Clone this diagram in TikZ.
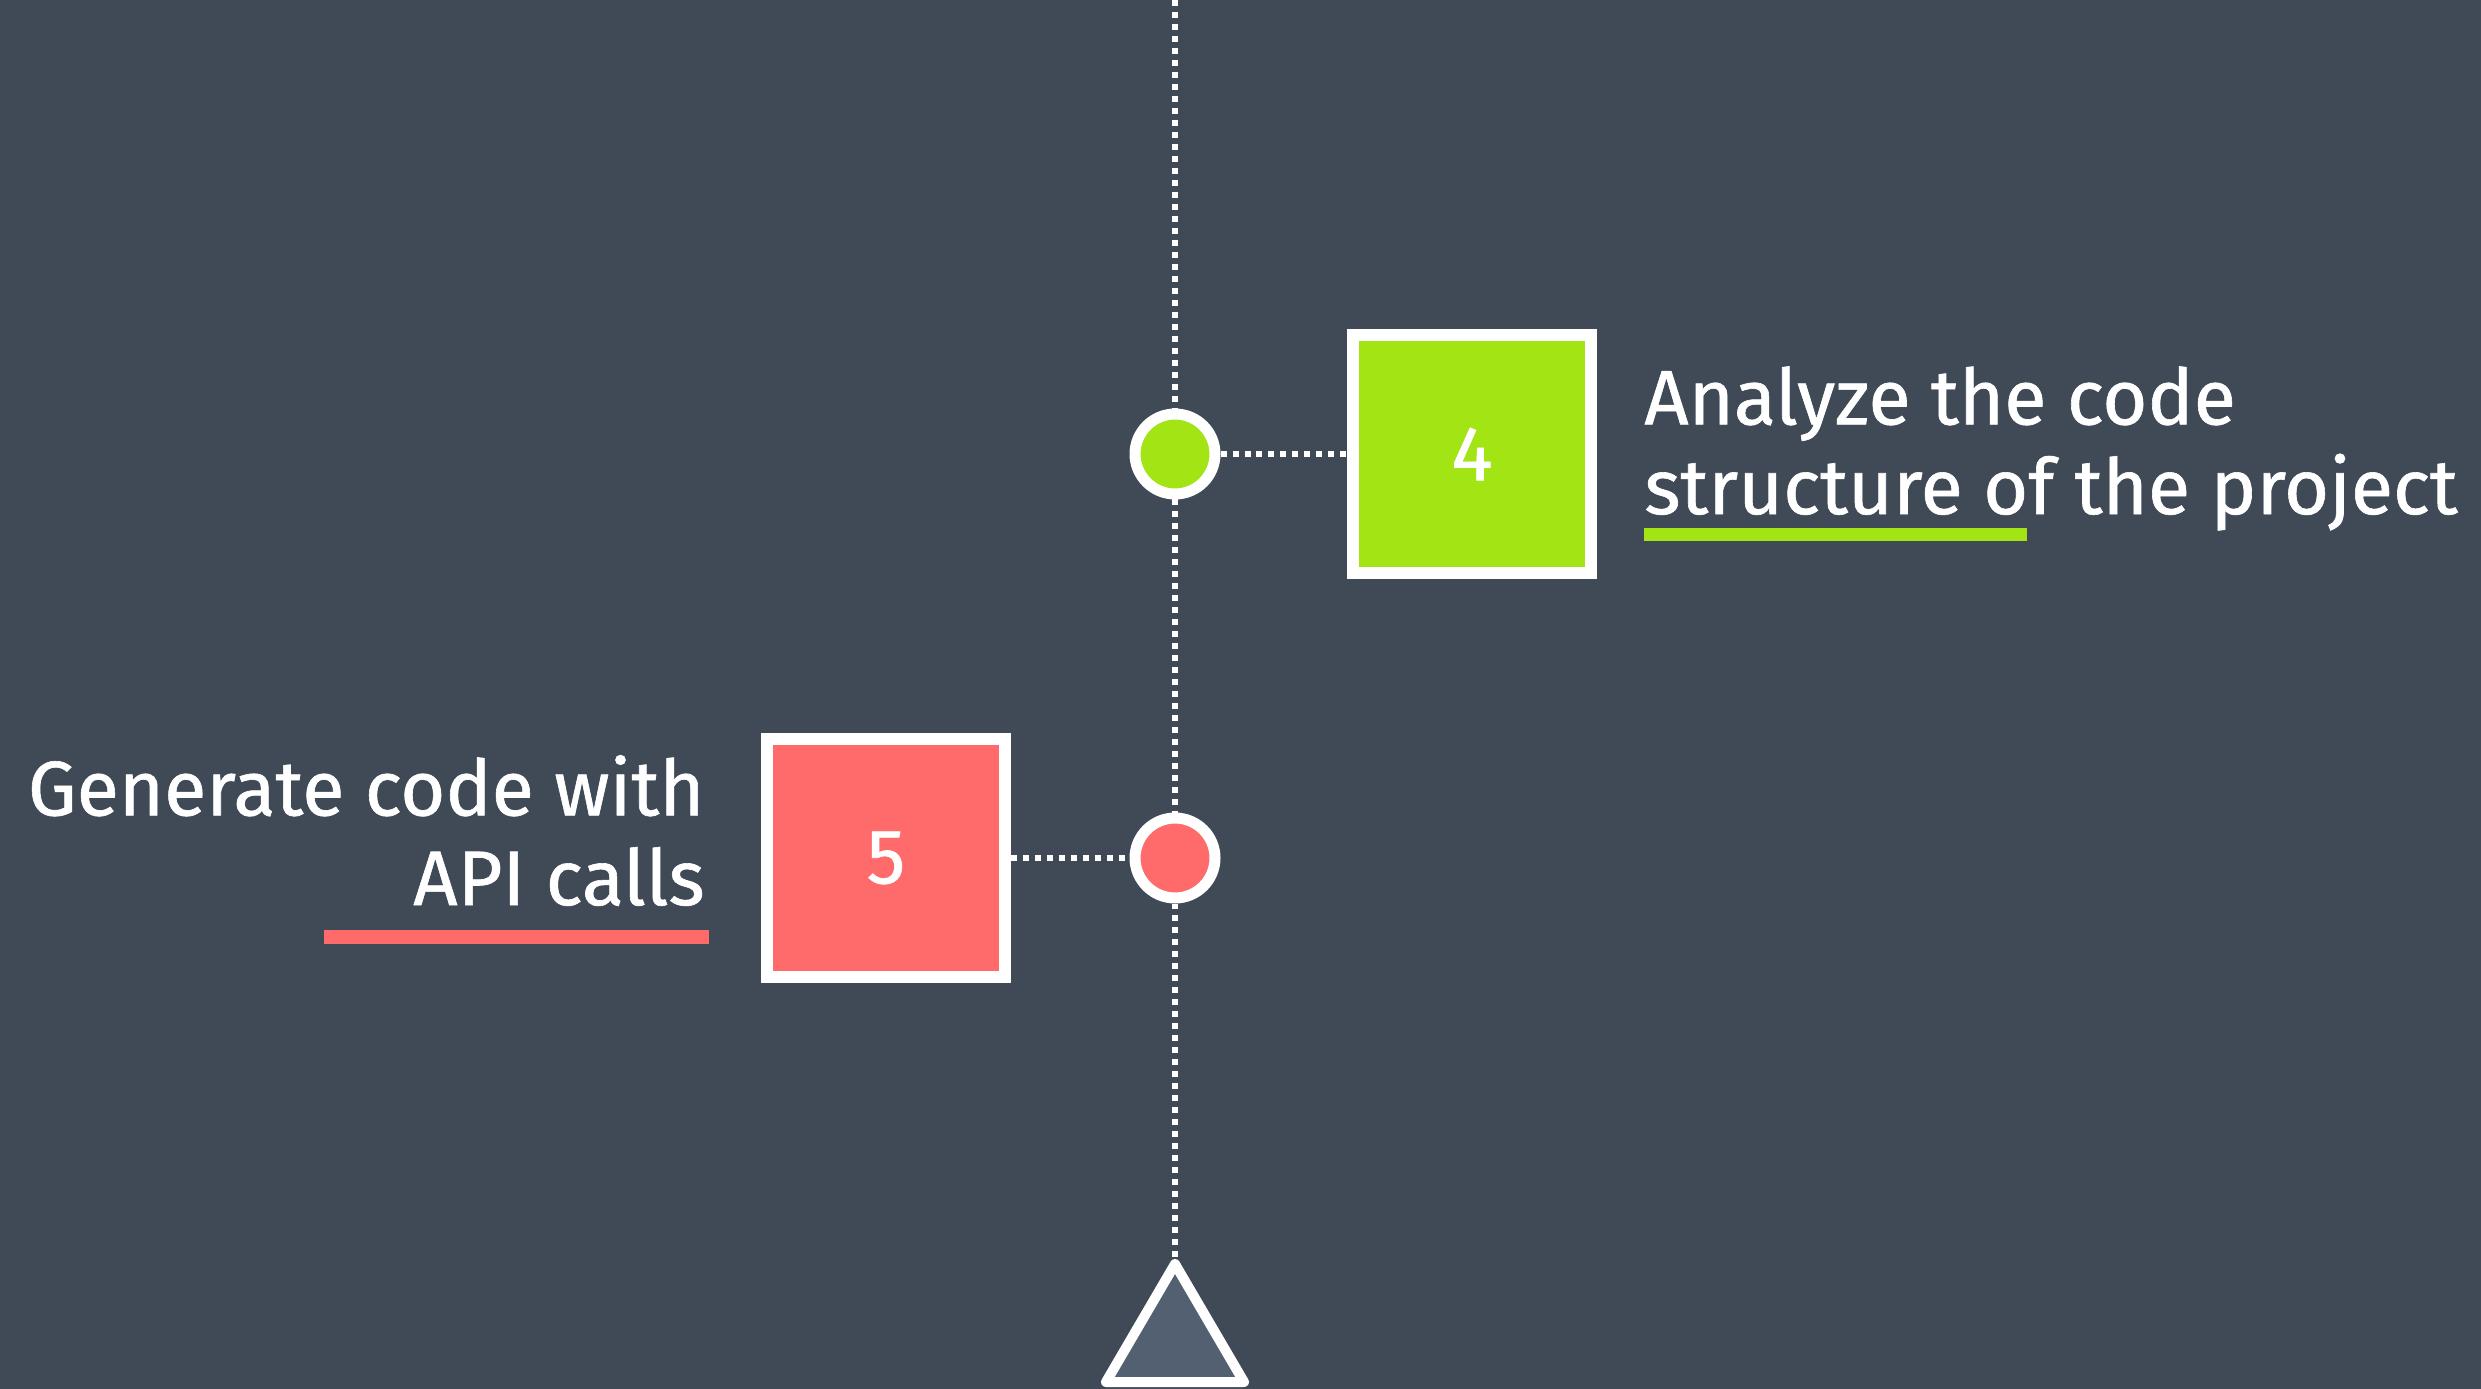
\documentclass[tikz,border=0pt]{standalone}
\usepackage{fontspec}
\setmainfont{Fira Sans}[FakeBold=0.8]
\definecolor{bgcol}{HTML}{3F4A56}
\definecolor{limecol}{HTML}{A2E414}
\definecolor{redcol}{HTML}{FF6B6B}
\definecolor{tricol}{HTML}{536072}

\begin{document}
\begin{tikzpicture}[x=0.02cm,y=-0.02cm,
	dotline/.style={draw=white,line width=0.12cm,dash pattern=on 0.12cm off 0.12cm},
	ring/.style={circle,draw=white,line width=0.22cm,minimum size=1.6cm,inner sep=0pt},
	numbox/.style={rectangle,draw=white,line width=0.24cm,minimum size=4.76cm,inner sep=0pt,text=white,font=\fontsize{44}{51}\selectfont},
	steptext/.style={text=white,font=\fontsize{44}{51}\selectfont,inner sep=0pt}]
	\fill[bgcol] (0,0) rectangle (2481,1389);
	\useasboundingbox (0,0) rectangle (2481,1389);

	\coordinate (top) at (1175,0);
	\coordinate (tri) at (1175,1264);
	\node[ring,fill=limecol] (c4) at (1175,454) {};
	\node[ring,fill=redcol] (c5) at (1175,858) {};
	\node[numbox,fill=limecol] (b4) at (1472,454) {4};
	\node[numbox,fill=redcol] (b5) at (886,858) {5};

	\draw[dotline] (top) -- (c4);
	\draw[dotline] (c4) -- (c5);
	\draw[dotline] (c5) -- (tri);
	\draw[dotline] (c4) -- (b4);
	\draw[dotline] (b5) -- (c5);

	\filldraw[fill=tricol,draw=white,line width=0.2cm,line join=round] (tri) -- (1244,1382) -- (1106,1382) -- cycle;

	\node[steptext,anchor=base west,align=left] (t4) at (1644,514) {Analyze the code\\structure of the project};
	\fill[limecol] (1644,528) rectangle (2027,541);

	\node[steptext,anchor=base east,align=right] (t5) at (705,905) {Generate code with\\API calls};
	\fill[redcol] (324,930) rectangle (709,944);
\end{tikzpicture}
\end{document}
